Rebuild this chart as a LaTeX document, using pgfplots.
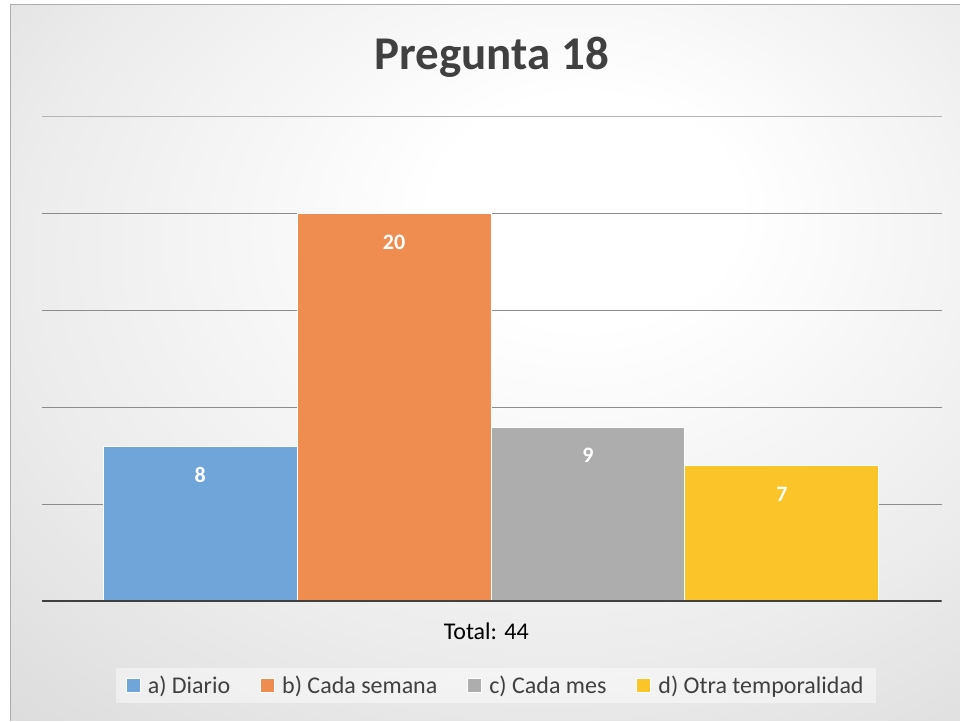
\documentclass[border=0pt]{standalone}
\usepackage{pgfplots}
\pgfplotsset{compat=1.18}
\usepackage{fontspec}
\setmainfont{Carlito}
\definecolor{bg1}{RGB}{255,255,255}
\definecolor{bg2}{RGB}{236,236,236}
\definecolor{bg3}{RGB}{212,212,212}
\definecolor{bg4}{RGB}{192,192,192}
\pgfdeclareradialshading{bgshade}{\pgfpoint{6bp}{12bp}}{color(0bp)=(bg1); color(8bp)=(bg1); color(28bp)=(bg2); color(48bp)=(bg3); color(72bp)=(bg4)}
\definecolor{cblue}{RGB}{111,165,216}
\definecolor{corange}{RGB}{238,141,79}
\definecolor{cgray}{RGB}{173,173,173}
\definecolor{cyellow}{RGB}{251,196,40}
\definecolor{txt}{RGB}{64,64,64}
\definecolor{ttl}{RGB}{64,64,64}
\begin{document}
\begin{tikzpicture}[x=1pt,y=1pt]
\fill[white] (0,0) rectangle (960,721);
\shade[shading=bgshade, draw=none] (11,0) rectangle (960,716);
\draw[color=bg4!90!black, line width=1pt] (11,0) -- (11,716) -- (960,716);
\node[font=\fontsize{47}{56}\selectfont\bfseries, text=ttl] at (492,664) {Pregunta 18};
\node[font=\fontsize{24}{29}\selectfont, text=black] at (486.5,89) {Total: 44};
\begin{axis}[
  at={(42pt,119pt)}, anchor=south west,
  scale only axis, width=900pt, height=485pt,
  xmin=-2.316, xmax=2.323, ymin=0, ymax=25,
  /pgf/number format/assume math mode=true,
  axis line style={draw=none},
  xtick=\empty,
  ytick={5,10,15,20}, yticklabels={},
  major tick length=0pt,
  extra y ticks={25}, extra y tick labels={},
  extra y tick style={grid style={color=bg3!85!black, line width=1pt}},
  ymajorgrids,
  grid style={color=black!45, line width=1pt},
  ybar, bar width=1, bar shift=0pt,
  nodes near coords,
  every node near coord/.append style={anchor=center, yshift=-28pt, text=white, font=\fontsize{22}{26}\selectfont\bfseries},
  legend columns=4,
  legend style={at={(rel axis cs:0.5044,-0.1732)}, anchor=center, fill=white, fill opacity=0.45, text opacity=1, draw=none, font=\fontsize{24}{29}\selectfont, text=txt, inner xsep=10pt, inner ysep=6pt, /tikz/every even column/.append style={column sep=28pt}, /tikz/every odd column/.append style={column sep=5pt}},
  legend image code/.code={\fill[#1, fill opacity=1] (0pt,-7pt) rectangle (14pt,7pt);},
]
\addplot[fill=cblue, draw=white, line width=1pt] coordinates {(-1.5,8)};
\addplot[fill=corange, draw=white, line width=1pt] coordinates {(-0.5,20)};
\addplot[fill=cgray, draw=white, line width=1pt] coordinates {(0.5,9)};
\addplot[fill=cyellow, draw=white, line width=1pt] coordinates {(1.5,7)};
\legend{a) Diario, b) Cada semana, c) Cada mes, d) Otra temporalidad}
\draw[color=txt, line width=3pt] (axis cs:-2.316,0) -- (axis cs:2.323,0);
\end{axis}
\end{tikzpicture}
\end{document}
